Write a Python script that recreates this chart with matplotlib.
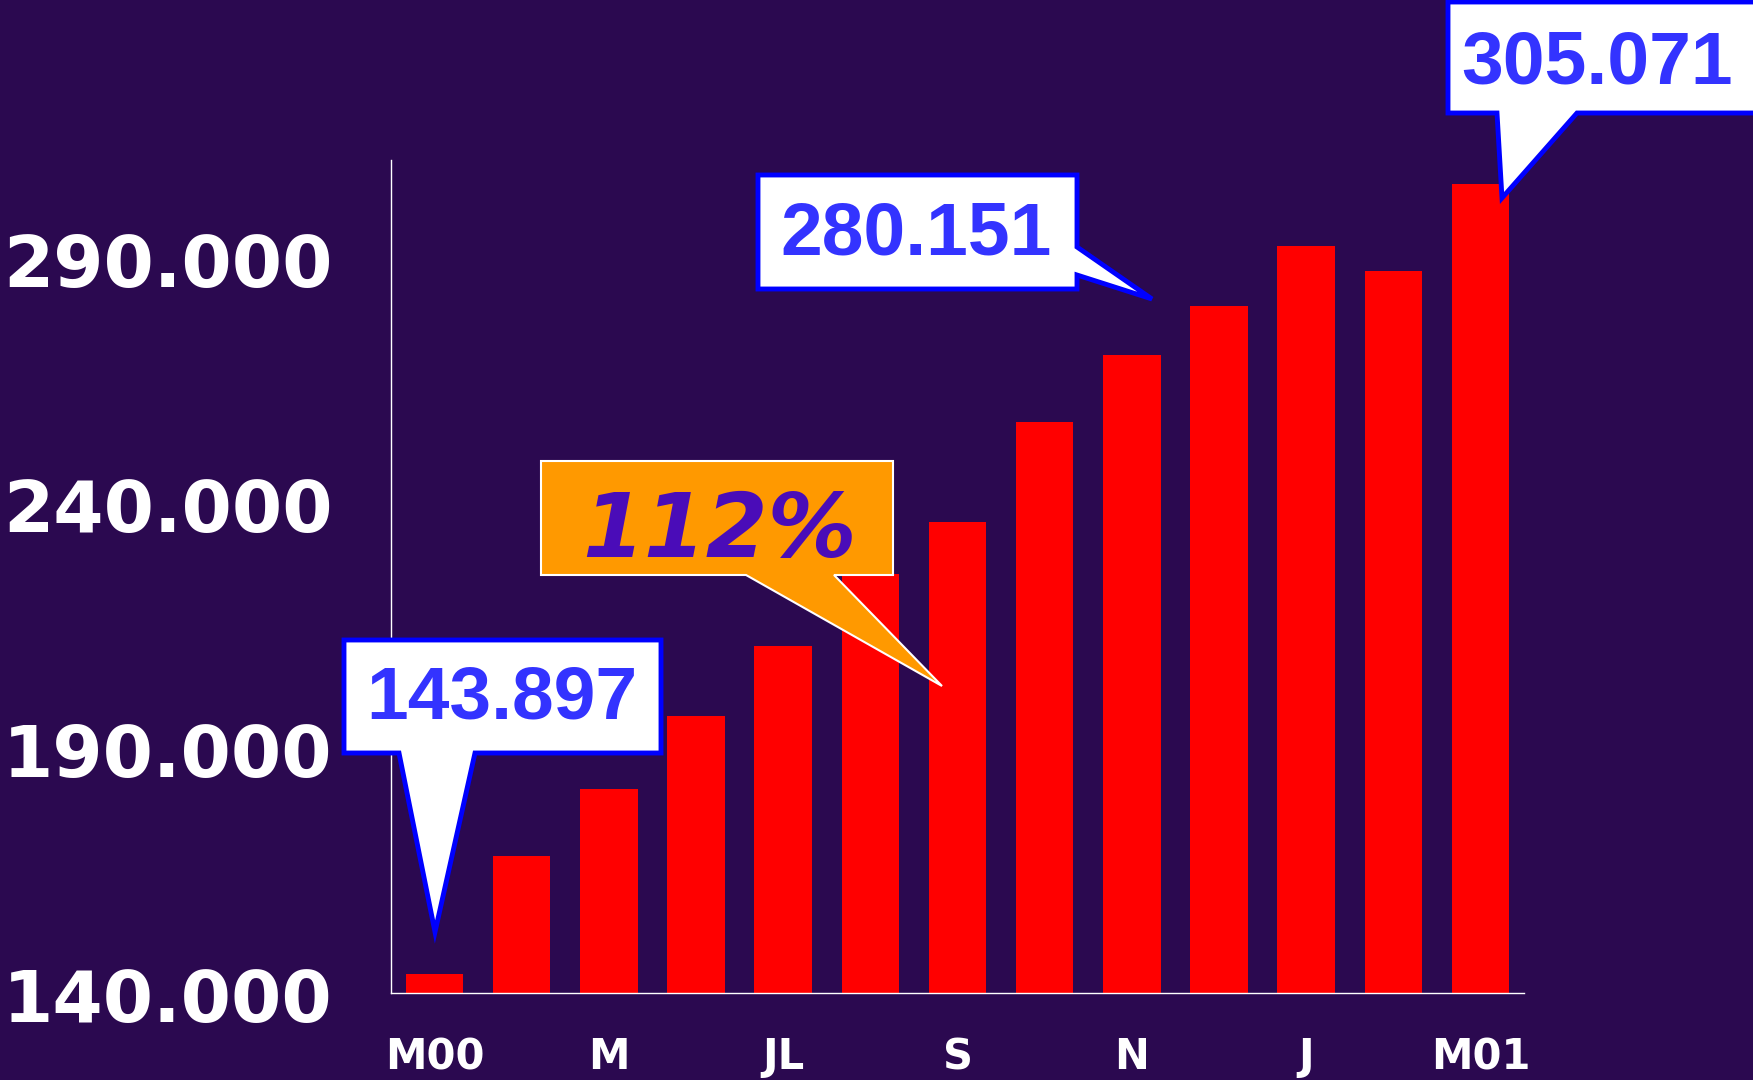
import matplotlib
matplotlib.use("Agg")
import matplotlib.pyplot as plt
from matplotlib.patches import Polygon
from matplotlib.transforms import IdentityTransform, ScaledTranslation

# ---- data ----
categories = ['M00', 'A', 'M', 'J', 'JL', 'AG', 'S', 'O', 'N', 'D', 'J', 'F', 'M01']
shown_labels = ['M00', '', 'M', '', 'JL', '', 'S', '', 'N', '', 'J', '', 'M01']
values = [143897, 168000, 181650, 196450, 210800, 225600, 236050,
          256550, 270200, 280151, 292500, 287250, 305071]
y_ticks = [140000, 190000, 240000, 290000]
y_tick_labels = ['140.000', '190.000', '240.000', '290.000']
callout_texts = ['143.897', '280.151', '305.071']
growth_text = '112%'

BG = '#2B0950'
W, H = 1753, 1080

fig = plt.figure(figsize=(W / 100, H / 100), dpi=100, facecolor=BG)
ax = fig.add_axes([391 / W, 1 - 993 / H, (1524 - 391) / W, (993 - 160) / H])
ax.set_facecolor(BG)

x = list(range(len(values)))
ax.bar(x, values, width=0.66, color='#FF0000', zorder=2)
ax.set_xlim(-0.5, len(values) - 0.5)
ax.set_ylim(140000, 310000)

for s in ['top', 'right']:
    ax.spines[s].set_visible(False)
for s in ['left', 'bottom']:
    ax.spines[s].set_color('white')
    ax.spines[s].set_linewidth(1.0)

ax.set_yticks(y_ticks)
ax.set_yticklabels(y_tick_labels, color='white', fontsize=52,
                   fontfamily='DejaVu Sans', fontweight='bold')
ax.tick_params(axis='y', length=0, pad=42)
for lbl in ax.get_yticklabels():
    lbl.set_transform(lbl.get_transform() + ScaledTranslation(0, -1.5 / 72, fig.dpi_scale_trans))

ax.set_xticks(x)
ax.set_xticklabels(shown_labels, color='white', fontsize=30,
                   fontfamily='DejaVu Sans', fontweight='bold')
ax.tick_params(axis='x', length=0, pad=31)

# ---- callouts (pixel layout, top-left origin) ----
def P(px, py):
    return (px, H - py)

def callout(points, face, edge, lw):
    poly = Polygon([P(a, b) for a, b in points], closed=True, transform=IdentityTransform(),
                   facecolor=face, edgecolor=edge, linewidth=lw, joinstyle='miter', zorder=5)
    fig.add_artist(poly)

def ptext(px, py, s, **kw):
    fig.text(*P(px, py), s, transform=IdentityTransform(), ha='center', va='center',
             zorder=6, **kw)

num_kw = dict(color='#3333FF', fontsize=54, fontweight='bold',
              fontfamily=['Liberation Sans', 'DejaVu Sans'])

# 143.897
callout([(344, 640), (661, 640), (661, 753), (475, 753), (435, 932),
         (399, 753), (344, 753)], 'white', '#0000FF', 3.5)
ptext(502, 699, callout_texts[0], **num_kw)

# 280.151
callout([(758, 175), (1077, 175), (1077, 247), (1152, 299), (1077, 275),
         (1077, 289), (758, 289)], 'white', '#0000FF', 3.5)
ptext(916, 235, callout_texts[1], **num_kw)

# 305.071
callout([(1448, 2), (1760, 2), (1760, 113), (1577, 113), (1502, 198),
         (1497, 113), (1448, 113)], 'white', '#0000FF', 3.5)
ptext(1597, 64, callout_texts[2], **num_kw)

# 112%
callout([(541, 461), (893, 461), (893, 575), (834, 575), (942, 686),
         (746, 575), (541, 575)], '#FF9900', 'white', 1.5)
ptext(720, 532, growth_text, color='#4A0CB8', fontsize=64, fontweight='bold',
      fontstyle='italic', fontfamily='DejaVu Sans')

fig.savefig('out.png', dpi=100, facecolor=BG)
